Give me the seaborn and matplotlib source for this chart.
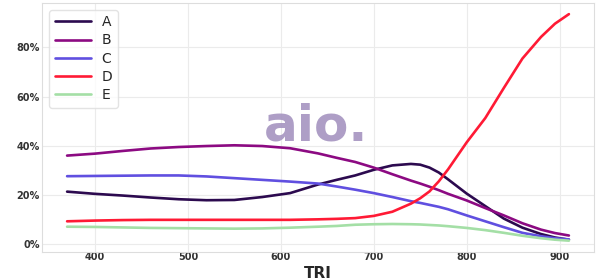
import matplotlib
matplotlib.use("Agg")
import matplotlib.pyplot as plt
from matplotlib.ticker import PercentFormatter
import seaborn as sns
import pandas as pd

tri = [370, 400, 430, 460, 490, 520, 550, 580, 610, 640, 660, 680, 700, 720,
       740, 750, 760, 770, 780, 800, 820, 840, 860, 880, 895, 910]
series_a = [21.2, 20.3, 19.6, 18.8, 18.1, 17.7, 17.8, 19.0, 20.6, 24.1, 26.0, 27.8,
            30.1, 31.9, 32.5, 32.2, 31.0, 29.0, 26.2, 20.4, 15.3, 10.2, 6.5, 3.9, 2.5, 1.6]
series_b = [35.9, 36.7, 37.8, 38.8, 39.4, 39.8, 40.1, 39.8, 38.9, 36.8, 35.0, 33.3,
            31.0, 28.3, 25.7, 24.5, 23.2, 21.8, 20.3, 17.6, 14.5, 11.5, 8.3, 5.7, 4.3, 3.3]
series_c = [27.5, 27.6, 27.7, 27.8, 27.8, 27.4, 26.7, 26.0, 25.3, 24.5, 23.3, 22.0,
            20.6, 19.0, 17.3, 16.6, 15.8, 15.0, 14.0, 11.5, 9.1, 6.7, 4.4, 3.0, 2.2, 1.7]
series_d = [9.1, 9.4, 9.6, 9.7, 9.7, 9.7, 9.7, 9.7, 9.7, 9.9, 10.1, 10.4,
            11.3, 13.0, 16.3, 18.5, 21.3, 25.4, 30.3, 41.3, 51.2, 63.5, 75.5, 84.3, 89.7, 93.6]
series_e = [6.9, 6.8, 6.6, 6.4, 6.3, 6.2, 6.1, 6.2, 6.5, 6.9, 7.2, 7.7,
            7.9, 8.0, 7.9, 7.8, 7.6, 7.4, 7.1, 6.4, 5.5, 4.4, 3.2, 2.2, 1.6, 1.2]
labels = ["A", "B", "C", "D", "E"]
colors = ["#2c0a4f", "#8c0a82", "#604fe0", "#ff1a35", "#a4dfa6"]

rows = []
for name, vals in zip(labels, [series_a, series_b, series_c, series_d, series_e]):
    for x, v in zip(tri, vals):
        rows.append({"TRI": x, "value": v, "series": name})
df = pd.DataFrame(rows)

sns.set_theme(style="whitegrid")
plt.rcParams['font.family'] = ['DejaVu Sans']

fig, ax = plt.subplots(figsize=(6, 2.8), dpi=100)
fig.subplots_adjust(left=0.07, right=0.99, top=0.99, bottom=0.1)

sns.lineplot(data=df, x="TRI", y="value", hue="series", palette=colors,
             linewidth=1.9, ax=ax)

ax.yaxis.set_major_formatter(PercentFormatter(100, decimals=0))
ax.set_xticks([400, 500, 600, 700, 800, 900])
ax.set_yticks([0, 20, 40, 60, 80])
ax.set_ylabel("")
ax.set_xlabel("TRI", fontsize=11, fontweight="bold", va="center")
ax.xaxis.set_label_coords(0.5, -0.085)
for lab in ax.get_xticklabels() + ax.get_yticklabels():
    lab.set_fontsize(7)
    lab.set_fontweight("bold")
    lab.set_color("#333333")
ax.tick_params(axis="x", pad=0, length=0)
ax.tick_params(axis="y", pad=1.5, length=0)
ax.grid(color="#ebebeb", linewidth=0.8)
for s in ax.spines.values():
    s.set_color("#dddddd")
    s.set_linewidth(0.8)

leg = ax.legend(loc="upper left", fontsize=10, frameon=True, handlelength=2.6,
                borderpad=0.4, labelspacing=0.3)
leg.get_frame().set_edgecolor("#dddddd")

fig.text(0.527, 0.548, "aio.", fontsize=36, fontweight="bold", color="#a594c0",
         alpha=0.9, ha="center", va="center")

fig.savefig("out.png", dpi=100)
